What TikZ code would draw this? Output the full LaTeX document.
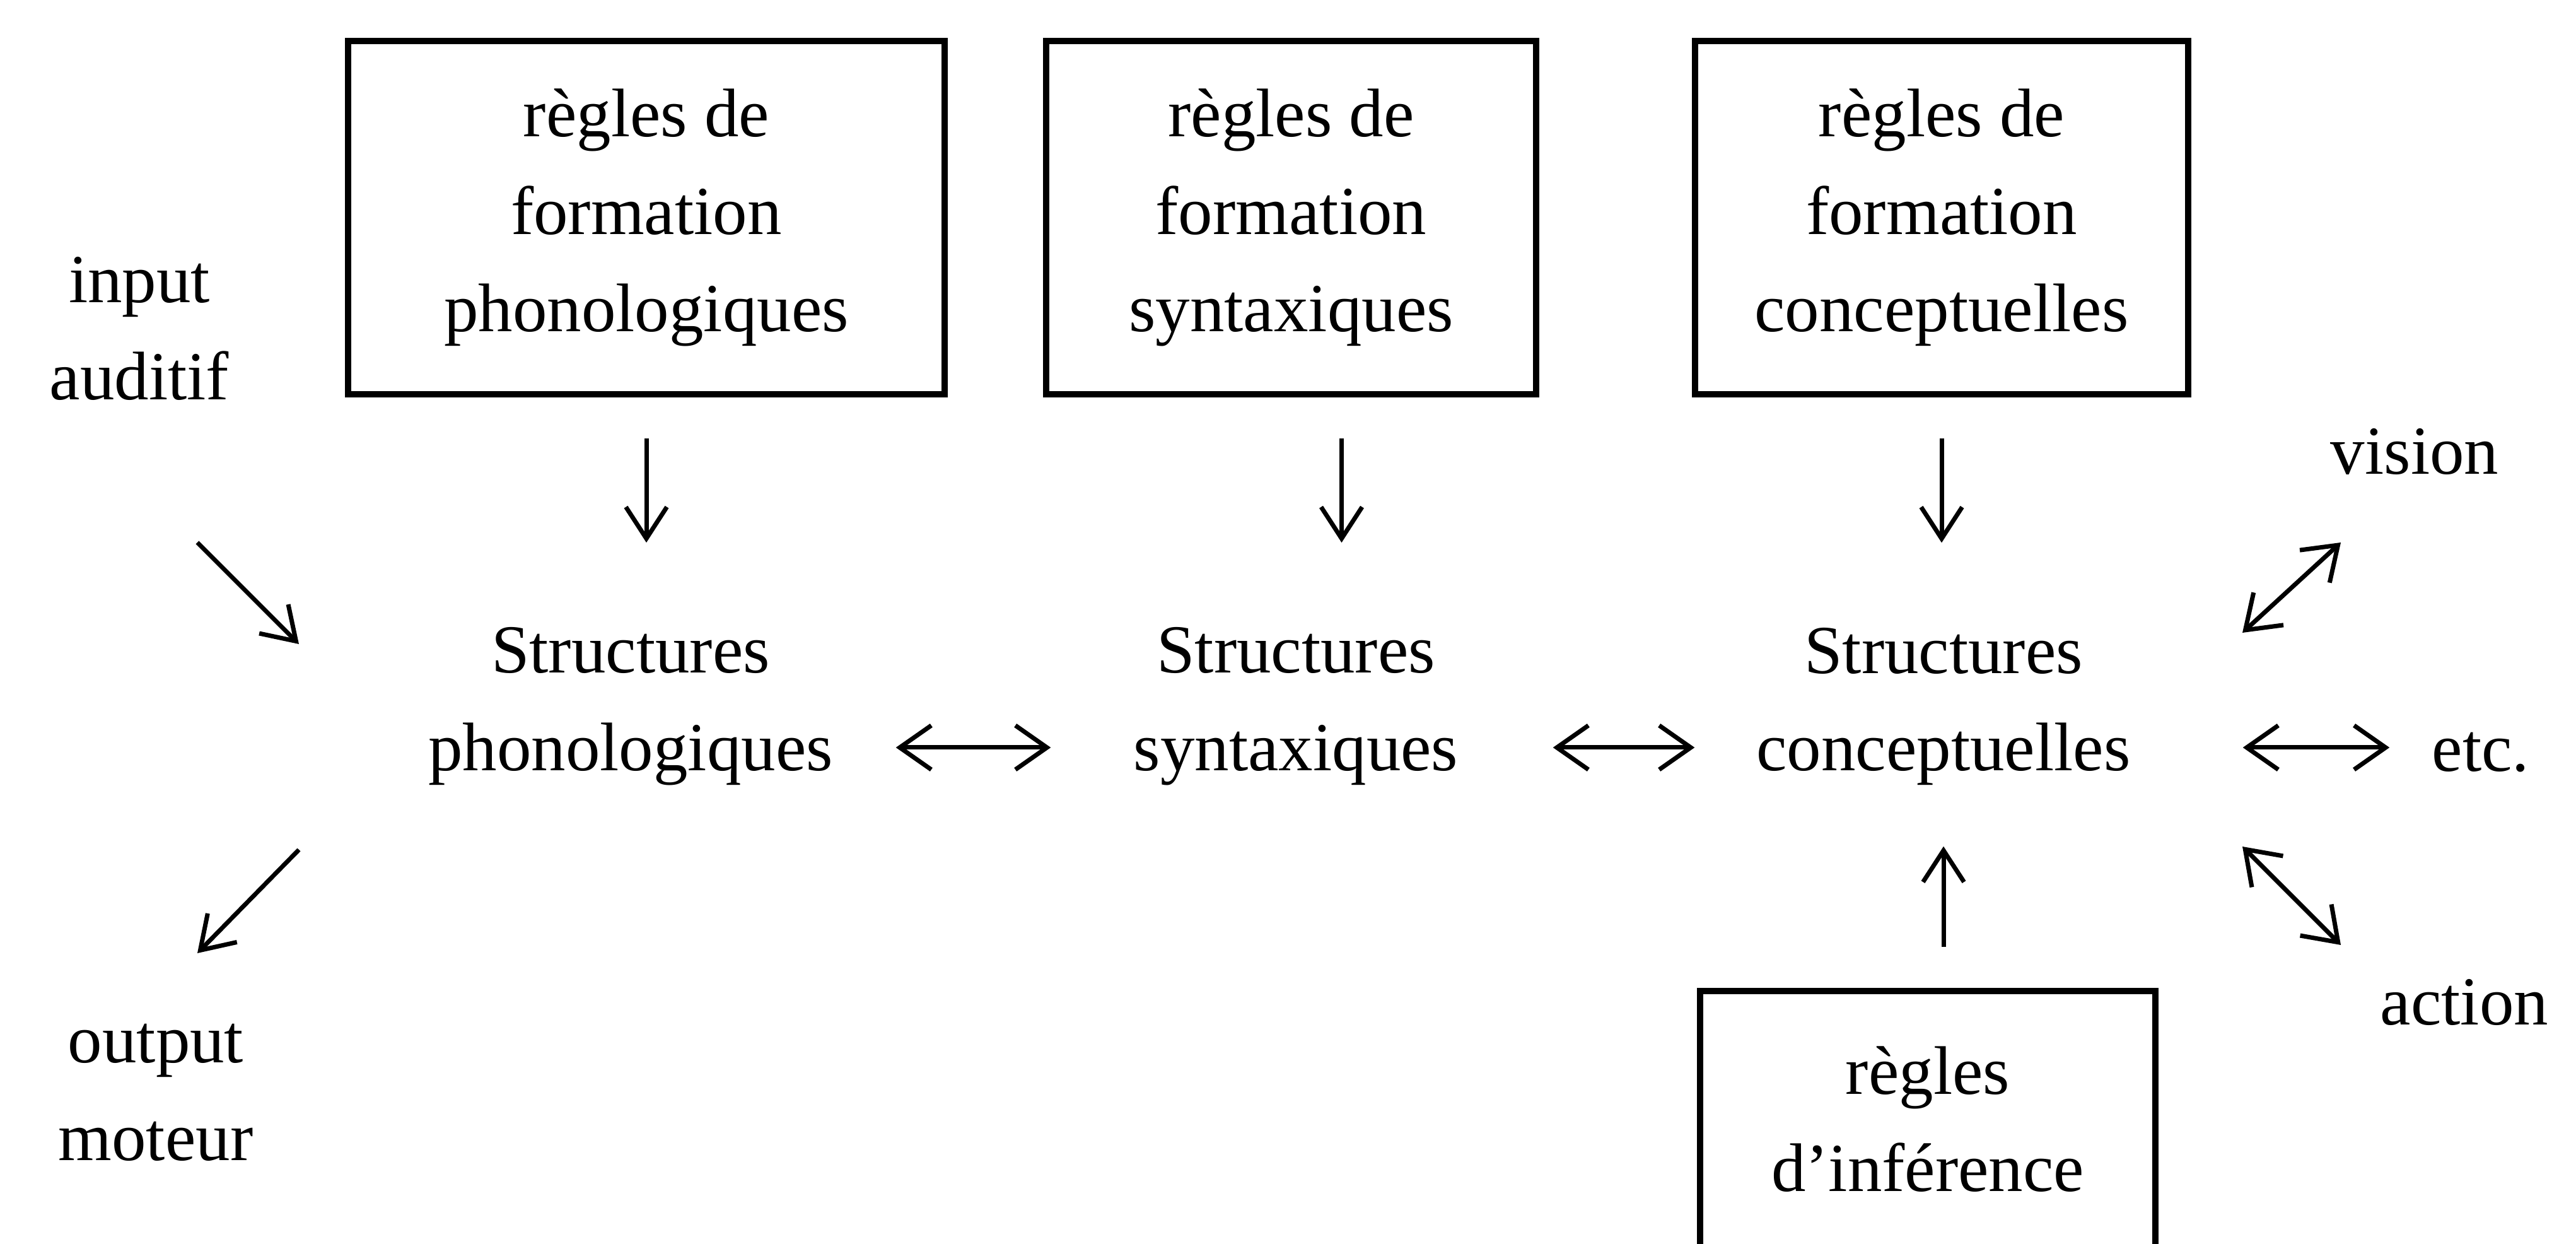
\documentclass[tikz,border=0pt]{standalone}
\usepackage{fontspec}
\setmainfont{Liberation Serif}
\usetikzlibrary{arrows.meta}
\tikzset{
  regle/.style={draw, line width=2.8pt, align=center, inner sep=0pt, minimum height=5.6cm},
  struct/.style={align=center, inner sep=0pt, text width=6.6cm},
  fleche/.style={-{Straight Barb[length=5mm,width=6.5mm]}, line width=2pt},
  dfleche/.style={{Straight Barb[length=5mm,width=7mm]}-{Straight Barb[length=5mm,width=7mm]}, line width=2pt},
}
\begin{document}
\begin{tikzpicture}[font=\fontsize{31}{44}\selectfont]
        \useasboundingbox (0,0) rectangle (40.85,19.72);
        % les regles
        \node[regle, minimum width=9.46cm] (rfp) at (10.25,16.27) {règles de\\formation\\phonologiques};
        \node[regle, minimum width=7.77cm] (rfs) at (20.475,16.27) {règles de\\formation\\syntaxiques};
        \node[regle, minimum width=7.82cm] (rfc) at (30.79,16.27) {règles de\\formation\\conceptuelles};
        \node[regle, minimum width=7.22cm, minimum height=4.06cm] (ri) at (30.57,1.98) {règles\\d’inférence};
        % les structures
        \node[struct] (sp) at (10.0,8.52) {Structures\\phonologiques};
        \node[struct] (ss) at (20.55,8.52) {Structures\\syntaxiques};
        \node[struct] (sc) at (30.82,8.52) {Structures\\conceptuelles};
        \node[align=center] (ia) at (2.21,14.51) {input\\auditif};
        \node[align=center] (om) at (2.47,2.40) {output\\moteur};
        \node (vi) at (38.29,12.56) {vision};
        \node (ac) at (39.08,3.83) {action};
        \node[anchor=base, inner sep=0pt] (etc) at (39.34,7.49) {etc.};
        \draw[fleche, shorten <=0.65cm, shorten >=1.34cm] (rfp.south) -- (rfp.south |- sp.north);
        \draw[fleche, shorten <=0.65cm, shorten >=1.34cm] ([xshift=8mm]rfs.south) -- ([xshift=8mm]rfs.south |- ss.north);
        \draw[fleche, shorten <=0.65cm, shorten >=1.34cm] (rfc.south) -- (rfc.south |- sc.north);
        \draw[fleche, shorten <=0.65cm, shorten >=0.96cm] (ri.north -| sc.south) -- (sc.south);
        \draw[dfleche, shorten <=0.9cm, shorten >=0.58cm] ([yshift=-6.5mm]sp.east) -- ([yshift=-6.5mm]ss.west);
        \draw[dfleche, shorten <=0.77cm, shorten >=0.64cm] ([yshift=-6.5mm]ss.east) -- ([yshift=-6.5mm]sc.west);
        \draw[dfleche, shorten <=1.44cm, shorten >=0.67cm] ([yshift=-6.5mm]sc.east) -- ([yshift=-6.5mm]sc.east -| etc.west);
        % les fleches obliques
        \coordinate (in1) at (3.13,11.12);
        \coordinate (in2) at (4.74,9.51);
        \coordinate (out1) at (4.74,6.25);
        \coordinate (out2) at (3.13,4.61);
        \coordinate (vi1) at (35.56,9.69);
        \coordinate (vi2) at (37.12,11.12);
        \coordinate (ac1) at (35.56,6.30);
        \coordinate (ac2) at (37.12,4.74);
        \draw[fleche] (in1) -- (in2);
        \draw[fleche] (out1) -- (out2);
        \draw[dfleche] (vi1) -- (vi2);
        \draw[dfleche] (ac1) -- (ac2);
\end{tikzpicture}
\end{document}
